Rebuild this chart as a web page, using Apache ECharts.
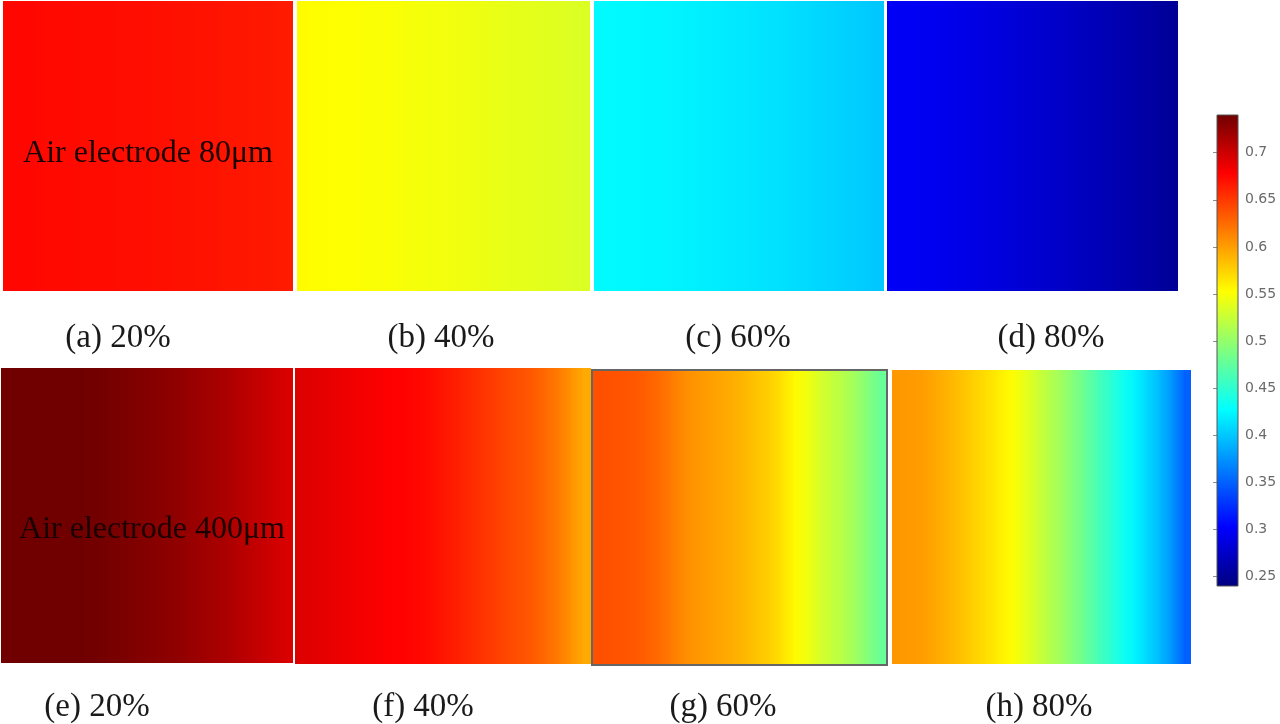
<!DOCTYPE html>
<html>
<head>
<meta charset="utf-8">
<script src="https://cdn.jsdelivr.net/npm/echarts@6/dist/echarts.min.js"></script>
<style>html,body{margin:0;padding:0;background:#fff;}#c{width:1280px;height:724px;}</style>
</head>
<body>
<div id="c"></div>
<script>
// ---- data (values read left -> right across each panel) ----
const panelA = [0.674,0.674,0.674,0.673,0.673,0.673,0.672,0.672,0.672,0.671,0.671,0.671,0.670,0.670,0.669,0.669,0.668,0.668,0.667,0.667,0.666,0.666,0.665,0.664];
const panelB = [0.554,0.553,0.553,0.552,0.552,0.551,0.550,0.550,0.549,0.548,0.547,0.547,0.546,0.545,0.544,0.543,0.542,0.541,0.540,0.539,0.538,0.537,0.536,0.535];
const panelC = [0.425,0.425,0.424,0.424,0.423,0.423,0.422,0.421,0.420,0.419,0.418,0.417,0.416,0.415,0.414,0.413,0.411,0.410,0.408,0.407,0.405,0.404,0.402,0.400];
const panelD = [0.298,0.297,0.296,0.295,0.294,0.292,0.291,0.289,0.287,0.285,0.283,0.281,0.279,0.277,0.275,0.273,0.270,0.268,0.266,0.263,0.261,0.258,0.255,0.252];
const panelE = [0.740,0.740,0.740,0.740,0.740,0.740,0.740,0.739,0.738,0.736,0.734,0.732,0.730,0.728,0.726,0.723,0.720,0.717,0.714,0.710,0.706,0.702,0.698,0.694];
const panelF = [0.692,0.690,0.688,0.686,0.684,0.682,0.680,0.678,0.677,0.675,0.673,0.669,0.665,0.661,0.656,0.651,0.646,0.641,0.637,0.632,0.625,0.616,0.605,0.594];
const panelG = [0.638,0.637,0.636,0.634,0.630,0.625,0.617,0.608,0.604,0.600,0.596,0.592,0.587,0.581,0.575,0.566,0.555,0.545,0.533,0.524,0.516,0.504,0.491,0.478];
const panelH = [0.603,0.602,0.600,0.595,0.589,0.583,0.576,0.569,0.562,0.554,0.543,0.530,0.518,0.506,0.493,0.478,0.463,0.449,0.435,0.422,0.408,0.394,0.374,0.350];
const panelLabels = ['(a) 20%','(b) 40%','(c) 60%','(d) 80%','(e) 20%','(f) 40%','(g) 60%','(h) 80%'];
const rowLabels = ['Air electrode 80\u03bcm','Air electrode 400\u03bcm'];
const cbMin = 0.24, cbMax = 0.74;
const cbTicks = [0.25,0.3,0.35,0.4,0.45,0.5,0.55,0.6,0.65,0.7];

const panels = [panelA,panelB,panelC,panelD,panelE,panelF,panelG,panelH];
const jet = ['#00007f','#0000ff','#007fff','#00ffff','#7fff7f','#ffff00','#ff7f00','#ff0000','#700000'];

// layout (pixels)
const boxes = [
  [4,1,289,290],[297,1,292,290],[594,1,290,290],[887,1,291,290],
  [1,368,292,295],[295,368,295,296],[592,370,295,295],[892,370,299,294]
];
const labelPos = [[118,338],[441,338],[738,338],[1051,338],[97,707],[423,707],[723,707],[1039,707]];

// each cell is shaded from its own mapped colour to the next cell's mapped colour
function cellRender(params, api){
  const i = params.dataIndexInside, n = params.dataInsideLength;
  const c = api.coord([api.value(0), api.value(1)]);
  const s = api.size([1, 1]);
  const y0 = Math.floor(c[1] - s[1]/2), y1 = Math.ceil(c[1] + s[1]/2);
  const col = api.visual('color');
  const children = [];
  if (i === 0) {
    const xl = Math.floor(c[0] - s[0]/2);
    children.push({type:'rect',shape:{x:xl,y:y0,width:Math.ceil(c[0])-xl+1,height:y1-y0},style:{fill:col}});
  }
  if (i < n-1) {
    const col2 = api.visual('color', i+1);
    const xa = Math.floor(c[0]), xb = Math.ceil(c[0] + s[0]);
    children.push({type:'rect',shape:{x:xa,y:y0,width:xb-xa+1,height:y1-y0},
      style:{fill:new echarts.graphic.LinearGradient(0,0,1,0,[{offset:0,color:col},{offset:1,color:col2}])}});
  } else {
    const xa = Math.floor(c[0]), xr = Math.ceil(c[0] + s[0]/2);
    children.push({type:'rect',shape:{x:xa,y:y0,width:xr-xa,height:y1-y0},style:{fill:col}});
  }
  return {type:'group', children:children};
}

const grids=[], xAxes=[], yAxes=[], series=[];
panels.forEach((vals,k)=>{
  const b=boxes[k];
  grids.push({left:b[0],top:b[1],width:b[2],height:b[3],containLabel:false});
  xAxes.push({type:'category',gridIndex:k,data:vals.map((_,i)=>i),show:false});
  yAxes.push({type:'category',gridIndex:k,data:['r'],show:false});
  series.push({type:'custom',xAxisIndex:k,yAxisIndex:k,clip:false,
    data:vals.map((v,i)=>[i,0,v]),renderItem:cellRender,emphasis:{disabled:true}});
});
// colorbar grid
const cb = grids.length;
grids.push({left:1217,top:115,width:21,height:471});
xAxes.push({type:'value',gridIndex:cb,min:0,max:1,show:false});
yAxes.push({type:'value',gridIndex:cb,min:cbMin,max:cbMax,position:'right',
  axisLine:{show:false},splitLine:{show:false},
  axisTick:{show:true,inside:true,length:4,customValues:cbTicks,lineStyle:{color:'rgba(0,0,0,0.45)'}},
  axisLabel:{show:true,customValues:cbTicks,formatter:v=>String(v),color:'#6a6a6a',fontSize:14,fontFamily:'DejaVu Sans',margin:7}});
yAxes.push({type:'value',gridIndex:cb,min:cbMin,max:cbMax,position:'left',
  axisLine:{show:false},splitLine:{show:false},axisLabel:{show:false},
  axisTick:{show:true,inside:true,length:4,customValues:cbTicks,lineStyle:{color:'rgba(0,0,0,0.45)'}}});
series.push({type:'custom',xAxisIndex:cb,yAxisIndex:8,data:[[0,cbMin,cbMax]],z:5,
  renderItem:(params,api)=>{
    const p0=api.coord([0,api.value(1)]), p1=api.coord([1,api.value(2)]);
    return {type:'rect',shape:{x:p0[0],y:p1[1],width:p1[0]-p0[0],height:p0[1]-p1[1]},
      style:{fill:new echarts.graphic.LinearGradient(0,1,0,0,jet.map((c,i)=>({offset:i/(jet.length-1),color:c}))),
        stroke:'#555',lineWidth:1}};
  }});

const graphic=[];
panelLabels.forEach((t,k)=>{
  graphic.push({type:'text',x:labelPos[k][0],y:labelPos[k][1],z:10,
    style:{text:t,fill:'#1a1a1a',font:'33px "Liberation Serif"',textAlign:'center',textVerticalAlign:'middle'}});
});
graphic.push({type:'text',x:148,y:154,z:10,style:{text:rowLabels[0],fill:'#1a0000',font:'32px "Liberation Serif"',textAlign:'center',textVerticalAlign:'middle'}});
graphic.push({type:'text',x:152,y:530,z:10,style:{text:rowLabels[1],fill:'#1a0000',font:'32px "Liberation Serif"',textAlign:'center',textVerticalAlign:'middle'}});
graphic.push({type:'rect',shape:{x:592,y:370,width:295,height:295},z:10,style:{fill:'none',stroke:'#666',lineWidth:2}});

const chart = echarts.init(document.getElementById('c'));
chart.setOption({
  animation:false,
  backgroundColor:'#ffffff',
  grid:grids, xAxis:xAxes, yAxis:yAxes,
  visualMap:{type:'continuous',show:false,min:cbMin,max:cbMax,dimension:2,seriesIndex:[0,1,2,3,4,5,6,7],inRange:{color:jet}},
  series:series,
  graphic:graphic
});
</script>
</body>
</html>
